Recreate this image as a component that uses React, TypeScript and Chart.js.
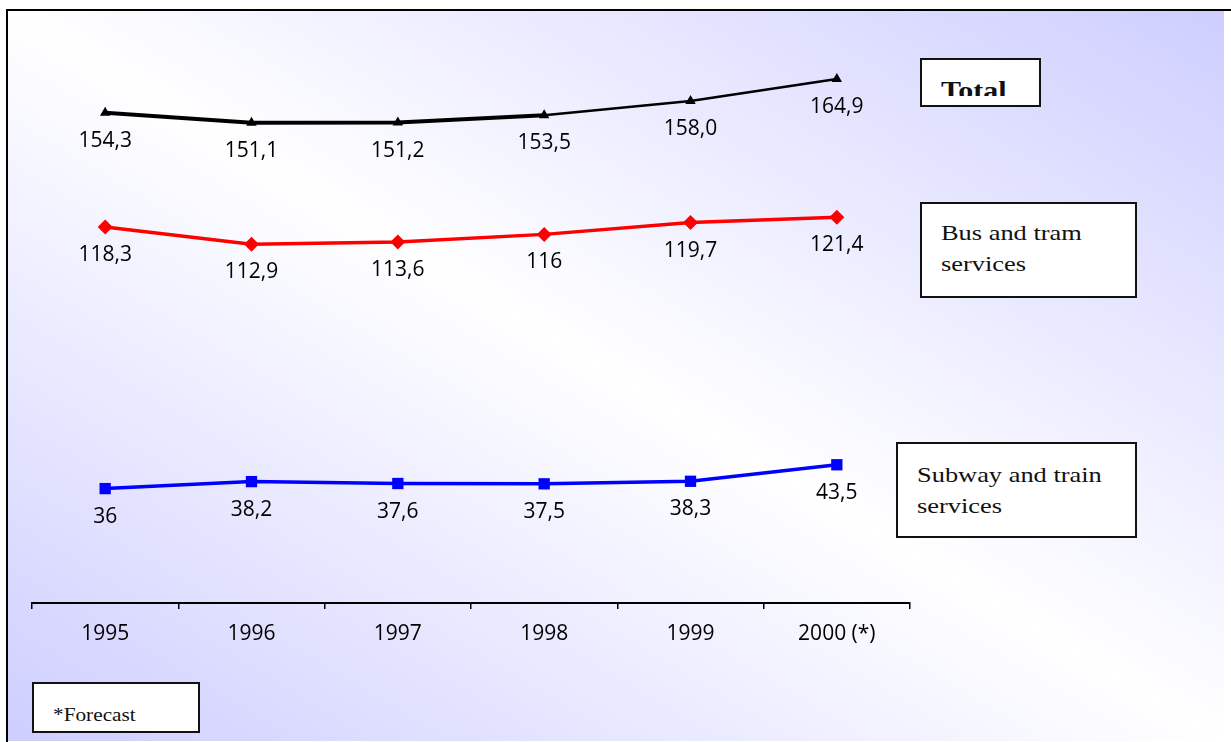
import React, { useEffect, useRef } from "react";
import { Chart, registerables } from "chart.js";

Chart.register(...registerables);

const years = ["1995", "1996", "1997", "1998", "1999", "2000 (*)"];
const totalValues = [154.3, 151.1, 151.2, 153.5, 158.0, 164.9];
const totalLabels = ["154,3", "151,1", "151,2", "153,5", "158,0", "164,9"];
const busValues = [118.3, 112.9, 113.6, 116, 119.7, 121.4];
const busLabels = ["118,3", "112,9", "113,6", "116", "119,7", "121,4"];
const subwayValues = [36, 38.2, 37.6, 37.5, 38.3, 43.5];
const subwayLabels = ["36", "38,2", "37,6", "37,5", "38,3", "43,5"];

const W = 1231;
const H = 742;
const LAVENDER = "rgb(206,206,255)";

const backgroundPlugin = {
  id: "bgFrame",
  beforeDraw(chart: any) {
    const ctx = chart.ctx;
    ctx.save();
    ctx.fillStyle = "#ffffff";
    ctx.fillRect(0, 0, W, H);
    const x0 = 7, y0 = 10, x1 = 1224, y1 = 741;
    const cx = (x0 + x1) / 2, cy = (y0 + y1) / 2;
    const dw = x1 - x0, dh = y1 - y0;
    const n = Math.sqrt(dw * dw + dh * dh);
    const dx = dh / n, dy = -dw / n;
    const half = (x1 - cx) * dx + (y0 - cy) * dy;
    const g = ctx.createLinearGradient(cx - half * dx, cy - half * dy, cx + half * dx, cy + half * dy);
    g.addColorStop(0, LAVENDER);
    g.addColorStop(0.5, "#ffffff");
    g.addColorStop(1, LAVENDER);
    ctx.fillStyle = g;
    ctx.fillRect(x0, y0, dw, dh);
    ctx.strokeStyle = "#000";
    ctx.lineWidth = 2;
    ctx.beginPath();
    ctx.moveTo(x0, H + 5);
    ctx.lineTo(x0, y0);
    ctx.lineTo(W + 5, y0);
    ctx.stroke();
    ctx.restore();
  },
};

const valueLabelPlugin = {
  id: "valueLabels",
  afterDatasetsDraw(chart: any) {
    const ctx = chart.ctx;
    ctx.save();
    ctx.font = "21px 'Open Sans', sans-serif";
    ctx.fillStyle = "#000";
    ctx.textAlign = "center";
    ctx.textBaseline = "alphabetic";
    chart.data.datasets.forEach((ds: any, i: number) => {
      const meta = chart.getDatasetMeta(i);
      meta.data.forEach((el: any, j: number) => {
        ctx.fillText(ds.valueLabels[j], el.x, el.y + 34);
      });
    });
    ctx.restore();
  },
};

export default function App() {
  const canvasRef = useRef<HTMLCanvasElement | null>(null);

  useEffect(() => {
    if (!canvasRef.current) return;
    Chart.defaults.font.family = "'Open Sans', sans-serif";
    const chart = new Chart(canvasRef.current, {
      type: "line",
      data: {
        labels: years,
        datasets: [
          {
            label: "Total",
            data: totalValues,
            valueLabels: totalLabels,
            borderColor: "#000",
            backgroundColor: "#000",
            borderWidth: 3,
            segment: { borderWidth: (c: any) => (c.p0DataIndex < 3 ? 4 : 2.5) },
            pointStyle: "triangle",
            pointRadius: 6,
            pointBorderWidth: 0,
            tension: 0,
          } as any,
          {
            label: "Bus and tram services",
            data: busValues,
            valueLabels: busLabels,
            borderColor: "#ff0000",
            backgroundColor: "#ff0000",
            borderWidth: 3.5,
            pointStyle: "rectRot",
            pointRadius: 7.5,
            pointBorderWidth: 0,
            tension: 0,
          } as any,
          {
            label: "Subway and train services",
            data: subwayValues,
            valueLabels: subwayLabels,
            borderColor: "#0000ff",
            backgroundColor: "#0000ff",
            borderWidth: 3.5,
            pointStyle: "rect",
            pointRadius: 8,
            pointBorderWidth: 0,
            tension: 0,
          } as any,
        ],
      },
      options: {
        responsive: false,
        animation: false,
        layout: { padding: { left: 32, right: W - 910, top: 31, bottom: 0 } },
        plugins: { legend: { display: false }, tooltip: { enabled: false } },
        scales: {
          x: {
            offset: true,
            grid: {
              offset: true,
              drawOnChartArea: false,
              drawTicks: true,
              tickLength: 6,
              color: "#000",
              lineWidth: 1.5,
            },
            border: { display: true, color: "#000", width: 2 },
            ticks: { color: "#000", font: { size: 21 }, padding: 12, maxRotation: 0 },
            afterFit: (scale: any) => {
              scale.height = H - 603;
            },
          },
          y: { display: false, min: 0, max: 180 },
        },
      } as any,
      plugins: [backgroundPlugin, valueLabelPlugin],
    });
    return () => chart.destroy();
  }, []);

  const box: React.CSSProperties = {
    position: "absolute",
    boxSizing: "border-box",
    border: "2px solid #111",
    background: "#fff",
  };
  const serif = "'Liberation Serif', 'Times New Roman', serif";
  const line = (size: number): React.CSSProperties => ({
    fontFamily: serif,
    fontSize: size,
    lineHeight: "31px",
    whiteSpace: "nowrap",
    transform: "scaleX(1.2)",
    transformOrigin: "left top",
    color: "#111",
  });

  return (
    <div style={{ position: "fixed", left: 0, top: 0, width: W, height: H, overflow: "hidden", background: "#fff" }}>
      <canvas ref={canvasRef} width={W} height={H} style={{ position: "absolute", left: 0, top: 0, width: W, height: H }} />
      <div style={{ ...box, left: 920, top: 58, width: 121, height: 49 }}>
        <div style={{ position: "absolute", left: 0, top: 0, right: 0, height: 36, overflow: "hidden" }}>
          <div
            style={{
              position: "absolute",
              left: 19,
              top: 18,
              fontFamily: serif,
              fontWeight: "bold",
              fontSize: 25,
              lineHeight: "25px",
              whiteSpace: "nowrap",
              transform: "scaleX(1.2)",
              transformOrigin: "left top",
              color: "#111",
            }}
          >
            Total
          </div>
        </div>
      </div>
      <div style={{ ...box, left: 920, top: 202, width: 217, height: 96 }}>
        <div style={{ position: "absolute", left: 19, top: 13 }}>
          <div style={line(22)}>Bus and tram</div>
          <div style={line(22)}>services</div>
        </div>
      </div>
      <div style={{ ...box, left: 896, top: 442, width: 241, height: 96 }}>
        <div style={{ position: "absolute", left: 19, top: 14.5 }}>
          <div style={line(22)}>Subway and train</div>
          <div style={line(22)}>services</div>
        </div>
      </div>
      <div style={{ ...box, left: 32, top: 682, width: 168, height: 51 }}>
        <div
          style={{
            position: "absolute",
            left: 19,
            top: 21,
            fontFamily: serif,
            fontSize: 19,
            lineHeight: "19px",
            whiteSpace: "nowrap",
            transform: "scaleX(1.12)",
            transformOrigin: "left top",
            color: "#111",
          }}
        >
          *Forecast
        </div>
      </div>
    </div>
  );
}
